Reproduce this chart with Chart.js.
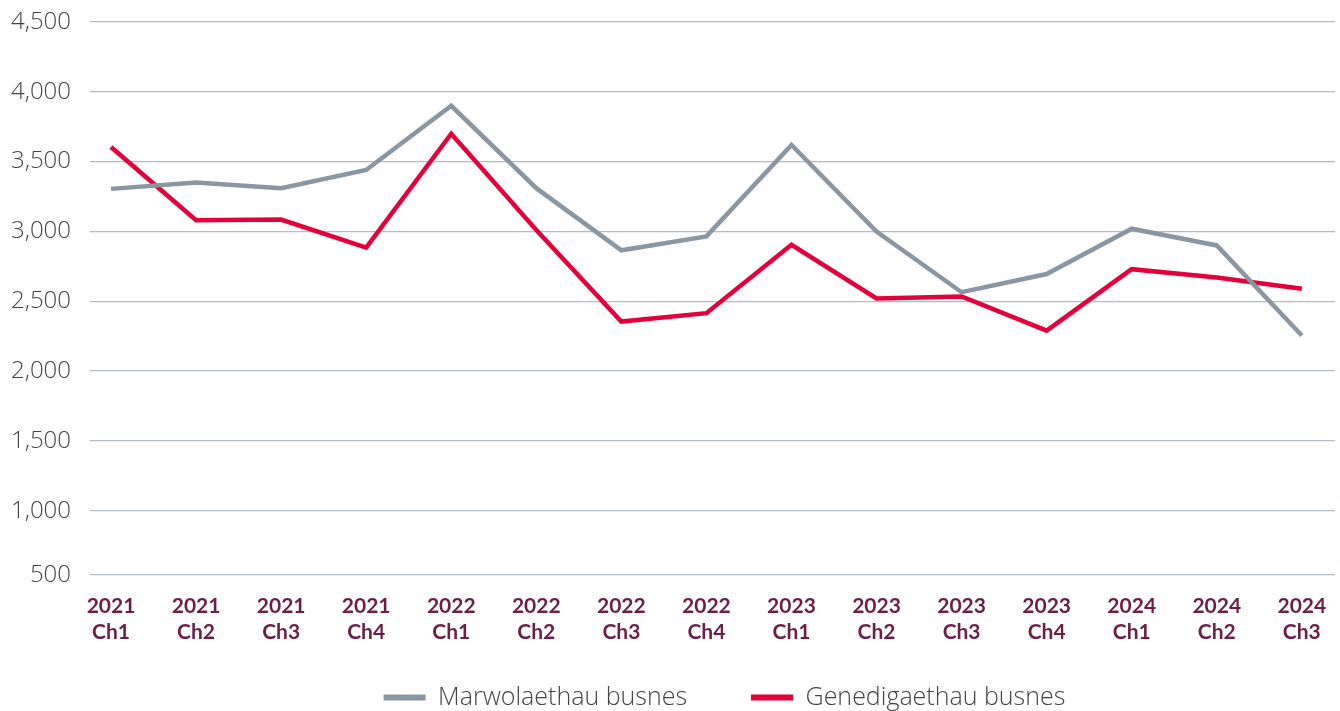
<html>
<head>
<script src="https://cdn.jsdelivr.net/npm/chart.js@4.4.1/dist/chart.umd.min.js"></script>
<style>
  body { margin: 0; background: #fff; }
  #wrap { width: 1340px; height: 711px; }
</style>
</head>
<body>
<div id="wrap"><canvas id="line-chart"></canvas></div>
<script>
// categories
var periods = ['2021 Ch1','2021 Ch2','2021 Ch3','2021 Ch4','2022 Ch1','2022 Ch2','2022 Ch3','2022 Ch4',
               '2023 Ch1','2023 Ch2','2023 Ch3','2023 Ch4','2024 Ch1','2024 Ch2','2024 Ch3'];
// series
var deaths = [3305,3350,3310,3440,3900,3310,2865,2965,3620,3000,2565,2695,3020,2900,2255];
var births = [3605,3080,3085,2885,3700,3010,2355,2415,2905,2520,2535,2290,2730,2670,2590];
// y tick labels
var yTicks = [500,1000,1500,2000,2500,3000,3500,4000,4500];
var yMin = 540, yMax = 4500;

function pts(arr) { return arr.map(function(v, i) { return {x: i, y: v}; }); }

var lightFont = "'Open Sans', sans-serif";
var boldFont = "'Lato', 'Open Sans', sans-serif";

// nudge the legend into place after layout
var legendShift = {
  id: 'legendShift',
  afterLayout: function(chart) {
    var lg = chart.legend;
    var dx = 12, dy = -26;
    lg.left += dx; lg.right += dx;
    lg.top += dy; lg.bottom += dy;
  }
};

new Chart(document.getElementById('line-chart'), {
  type: 'line',
  data: {
    datasets: [{
      label: 'Marwolaethau busnes',
      data: pts(deaths),
      borderColor: '#8a97a3',
      backgroundColor: '#8a97a3',
      borderWidth: 4.5,
      pointRadius: 0,
      tension: 0
    }, {
      label: 'Genedigaethau busnes',
      data: pts(births),
      borderColor: '#e4003b',
      backgroundColor: '#e4003b',
      borderWidth: 4.5,
      pointRadius: 0,
      tension: 0
    }]
  },
  plugins: [legendShift],
  options: {
    responsive: true,
    maintainAspectRatio: false,
    animation: false,
    layout: { padding: { top: 22, right: 5, left: 0, bottom: -35 } },
    plugins: {
      tooltip: { enabled: false },
      legend: {
        position: 'bottom',
        fullSize: false,
        labels: {
          boxWidth: 42,
          boxHeight: 6,
          padding: 64,
          color: '#444',
          font: { family: lightFont, size: 25, weight: 300 },
          generateLabels: function(chart) {
            var items = Chart.defaults.plugins.legend.labels.generateLabels(chart);
            items.forEach(function(it) { it.lineWidth = 0; });
            return items;
          }
        }
      }
    },
    scales: {
      x: {
        type: 'linear',
        min: -0.247,
        max: 14.39,
        grid: { display: false },
        border: { display: false },
        afterBuildTicks: function(axis) {
          axis.ticks = periods.map(function(p, i) { return {value: i}; });
        },
        afterFit: function(axis) { axis.height = 72; },
        ticks: {
          autoSkip: false,
          maxRotation: 0,
          padding: 10,
          color: '#6b1e46',
          font: { family: boldFont, size: 21, weight: 'bold', lineHeight: 1.25 },
          callback: function(value) { return periods[value] ? periods[value].split(' ') : ''; }
        }
      },
      y: {
        min: yMin,
        max: yMax,
        border: { display: false },
        grid: { color: '#b3bcc6', lineWidth: 1.3, drawTicks: false },
        afterBuildTicks: function(axis) {
          axis.ticks = yTicks.map(function(v) { return {value: Math.max(v, yMin)}; });
        },
        afterFit: function(axis) { axis.width = 90; axis.paddingTop = 0; axis.paddingBottom = 0; },
        ticks: {
          padding: 19,
          color: '#444',
          font: { family: lightFont, size: 24, weight: 300 },
          callback: function(value, index) { return yTicks[index].toLocaleString('en-US'); }
        }
      }
    }
  }
});
</script>
</body>
</html>
